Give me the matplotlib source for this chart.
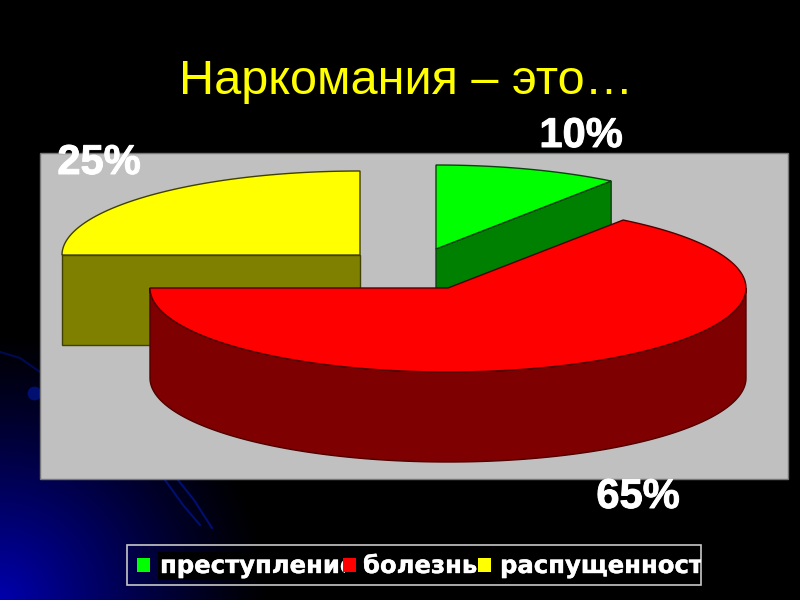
import matplotlib
matplotlib.use("Agg")
import matplotlib.pyplot as plt
import matplotlib.patheffects as pe
from matplotlib.patches import Rectangle
import numpy as np

title = "Наркомания – это…"
categories = ["преступление", "болезнь", "распущенность"]
shares = [10, 65, 25]
labels = ["10%", "65%", "25%"]

top_colors = ["#00ff00", "#ff0000", "#ffff00"]
side_colors = ["#008000", "#7f0000", "#808000"]
edge_colors = ["#104010", "#500000", "#404000"]

# each slice is pulled out of the pie, so every one has its own apex
apex = [(436, 249), (448, 288), (360, 255)]
rx = 298
ry = 84
depth = 90
slice_z = [4, 5, 3]


def rim(start, end):
    t = np.radians(np.linspace(start, end, 200))
    return np.sin(t) * rx, -np.cos(t) * ry


def draw_slice(ax, i, start, end):
    cx, cy = apex[i]
    x, y = rim(start, end)
    x = x + cx
    y = y + cy
    edge = edge_colors[i]
    z = slice_z[i]

    if i == 1:
        # outer wall, only the front half of the rim shows
        wx, wy = rim(max(start, 90), min(end, 270))
        wx = wx + cx
        wy = wy + cy
        ax.fill(np.r_[wx, wx[::-1]], np.r_[wy, wy[::-1] + depth],
                color=side_colors[i], ec=edge, lw=1, zorder=z)
    else:
        # flat cut face, green shows its far edge and yellow its near one
        k = -1 if i == 0 else 0
        ax.fill([cx, x[k], x[k], cx], [cy, y[k], y[k] + depth, cy + depth],
                color=side_colors[i], ec=edge, lw=1, zorder=z)

    ax.fill(np.r_[cx, x], np.r_[cy, y], color=top_colors[i], ec=edge, lw=1,
            zorder=z)


fig = plt.figure(figsize=(8, 6), dpi=100)
ax = fig.add_axes([0, 0, 1, 1])

# slide background: black with a blue glow from the lower left corner
yy, xx = np.mgrid[0:600, 0:800]
glow = np.clip(1 - np.hypot(xx, 600 - yy) / 270, 0, 1) ** 1.2
bg = np.zeros((600, 800, 3))
bg[..., 2] = glow * 0.68
ax.imshow(bg, extent=[0, 800, 600, 0], aspect="auto", zorder=0)

# faint streaks behind the chart
ax.plot([0, 20, 40], [352, 358, 372], color="#000a50", lw=1.5, zorder=1)
ax.plot([165, 183, 200], [480, 505, 525], color="#000f70", lw=1.5, zorder=1)
ax.plot([178, 194, 212], [480, 500, 528], color="#000f70", lw=1.5, zorder=1)
ax.plot([34], [393], "o", color="#000f70", ms=9, zorder=1)

ax.text(406, 81, title, color="#ffff00", fontsize=35, family="Liberation Sans",
        ha="center", va="center")

ax.add_patch(Rectangle((40, 153), 748, 326, fc="#c0c0c0", ec="#777777", lw=1,
                       zorder=2))

start = 0
for i, share in enumerate(shares):
    end = start + share * 3.6
    draw_slice(ax, i, start, end)
    start = end

label_pos = [(581, 136), (638, 497), (99, 163)]
for text, (x, y) in zip(labels, label_pos):
    ax.text(x, y, text, color="white", fontsize=30, fontweight="bold",
            family="Liberation Sans", ha="center", va="center", zorder=8,
            path_effects=[pe.withStroke(linewidth=0.7, foreground="white")])

# legend box, the text runs over its right side and gets cut
box = Rectangle((127, 545), 574, 40, fc="none", ec="#c8c8c8", lw=1.2, zorder=8)
ax.add_patch(box)

swatch_x = [137, 343, 478]
text_x = [160, 363, 500]
text_end = [345, 478, 701]
for i, name in enumerate(categories):
    ax.add_patch(Rectangle((text_x[i] - 2, 552), text_end[i] - text_x[i] + 1, 28,
                           fc="black", ec="none", zorder=8))
    t = ax.text(text_x[i], 566, name, color="white", fontsize=17.5,
                fontweight="bold", family="DejaVu Sans", ha="left",
                va="center", zorder=9, clip_on=True,
                path_effects=[pe.withStroke(linewidth=0.3, foreground="white")])
    t.set_clip_path(Rectangle((text_x[i] - 2, 545), text_end[i] - text_x[i] + 2,
                              40, transform=ax.transData))
for i in range(len(categories)):
    ax.add_patch(Rectangle((swatch_x[i], 558), 13, 14, fc=top_colors[i],
                           ec="none", zorder=10))

ax.set_xlim(0, 800)
ax.set_ylim(600, 0)
ax.axis("off")

fig.savefig("out.png", dpi=100, facecolor="black")
